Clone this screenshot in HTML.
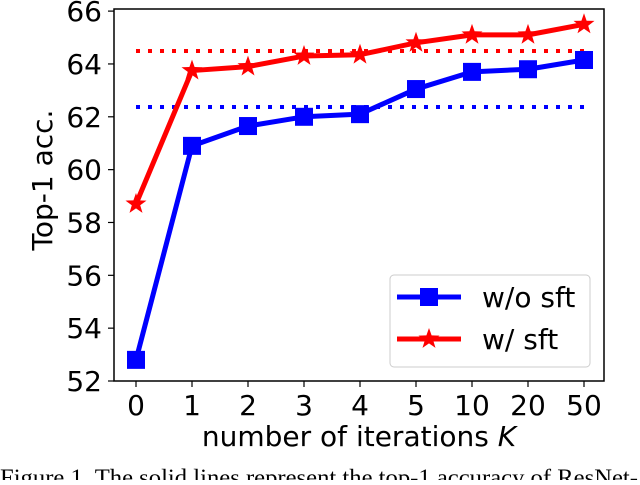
<!DOCTYPE html>
<html><head><meta charset="utf-8"><style>
body{margin:0;background:#fff;overflow:hidden;}
svg text{font-family:"DejaVu Sans","Liberation Sans",sans-serif;fill:#000;}
</style></head><body>
<svg id="chart" width="640" height="480" xmlns="http://www.w3.org/2000/svg">
</svg>
<script>
const categories = ["0","1","2","3","4","5","10","20","50"];
const woSft = [52.8, 60.9, 61.65, 62.0, 62.1, 63.05, 63.7, 63.8, 64.15];
const wSft = [58.7, 63.75, 63.9, 64.3, 64.35, 64.8, 65.1, 65.1, 65.5];
const woSftBaseline = 62.37;
const wSftBaseline = 64.49;
const yTicks = [52,54,56,58,60,62,64,66];

const NS="http://www.w3.org/2000/svg";
const svg=document.getElementById('chart');
const L=114,R=604,T=9,B=381,yMin=52,yMax=66.08;
const FS=28;
const x=i=>136+i*56;
const y=v=>B-(v-yMin)*(B-T)/(yMax-yMin);
function mk(tag,attrs,parent){const e=document.createElementNS(NS,tag);for(const k in attrs)e.setAttribute(k,attrs[k]);(parent||svg).appendChild(e);return e;}
function star(cx,cy,r){let p=[];for(let k=0;k<10;k++){const a=-Math.PI/2+k*Math.PI/5;const rr=k%2?r*0.4:r;p.push((cx+rr*Math.cos(a)).toFixed(1)+','+(cy+rr*Math.sin(a)).toFixed(1));}return p.join(' ');}

let bl=mk('line',{x1:x(0),x2:x(8),y1:y(wSftBaseline),y2:y(wSftBaseline),stroke:'#ff0000','stroke-width':4,'stroke-dasharray':'4 8'});


bl=mk('line',{x1:x(0),x2:x(8),y1:y(woSftBaseline),y2:y(woSftBaseline),stroke:'#0000ff','stroke-width':4,'stroke-dasharray':'4 8'});



let ln=mk('polyline',{points:woSft.map((v,i)=>x(i)+','+y(v)).join(' '),fill:'none',stroke:'#0000ff','stroke-width':5,'stroke-linejoin':'round'});


woSft.forEach((v,i)=>{const m=mk('rect',{x:x(i)-9,y:y(v)-9,width:18,height:18,fill:'#0000ff'});

});
ln=mk('polyline',{points:wSft.map((v,i)=>x(i)+','+y(v)).join(' '),fill:'none',stroke:'#ff0000','stroke-width':5,'stroke-linejoin':'round'});


wSft.forEach((v,i)=>{const m=mk('polygon',{points:star(x(i),y(v),11),fill:'#ff0000'});

});

let fr=mk('rect',{x:L,y:T,width:R-L,height:B-T,fill:'none',stroke:'#000','stroke-width':1.5});


yTicks.forEach(t=>{mk('line',{x1:L-6,x2:L,y1:y(t),y2:y(t),stroke:'#000','stroke-width':1.2});
const tx=mk('text',{x:L-12,y:y(t)+10,'text-anchor':'end','font-size':FS});tx.textContent=t;

});
categories.forEach((c,i)=>{mk('line',{x1:x(i),x2:x(i),y1:B,y2:B+6,stroke:'#000','stroke-width':1.2});
const tx=mk('text',{x:x(i),y:B+34,'text-anchor':'middle','font-size':FS});tx.textContent=c;

});

let xt=mk('text',{x:359,y:446,'text-anchor':'middle','font-size':FS});
xt.innerHTML='number of iterations <tspan font-style="italic">K</tspan>';


let yt=mk('text',{x:0,y:0,'text-anchor':'middle','font-size':FS,transform:'translate(52,180) rotate(-90)'});
yt.textContent='Top-1 acc.';



let lg=mk('g',{});


mk('rect',{x:390,y:275,width:200,height:92,rx:4,fill:'#fff',stroke:'#ccc','stroke-width':1},lg);
mk('line',{x1:397,x2:461,y1:297,y2:297,stroke:'#0000ff','stroke-width':5},lg);
mk('rect',{x:420,y:288,width:18,height:18,fill:'#0000ff'},lg);
let t1=mk('text',{x:482,y:307,'font-size':FS},lg);t1.textContent='w/o sft';


mk('line',{x1:397,x2:461,y1:339,y2:339,stroke:'#ff0000','stroke-width':5},lg);
mk('polygon',{points:star(429,339,11),fill:'#ff0000'},lg);
let t2=mk('text',{x:482,y:349,'font-size':FS},lg);t2.textContent='w/ sft';



let cap=mk('text',{x:0,y:485,'font-size':23,textLength:638,lengthAdjust:'spacingAndGlyphs'});
cap.setAttribute('style','font-family:"Liberation Serif",serif');
cap.textContent='Figure 1. The solid lines represent the top-1 accuracy of ResNet-';


</script>
</body></html>
